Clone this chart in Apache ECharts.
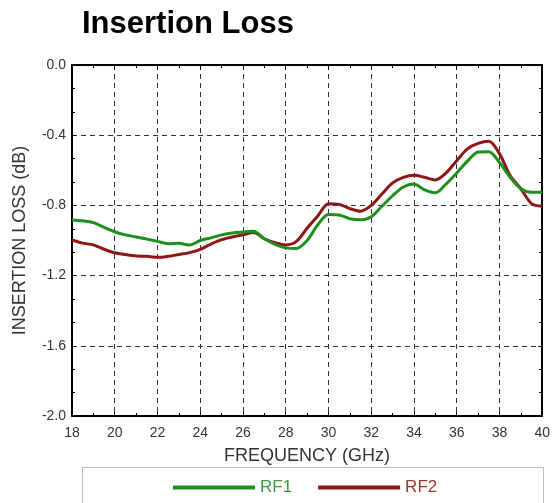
<!DOCTYPE html>
<html>
<head>
<meta charset="utf-8">
<script src="https://cdn.jsdelivr.net/npm/echarts@6/dist/echarts.min.js"></script>
<style>html,body{margin:0;padding:0;background:#fff;}#c{width:553px;height:503px;}</style>
</head>
<body>
<div id="c"></div>
<script>
var freq = [18,18.5,19,19.5,20,20.5,21,21.5,22,22.5,23,23.5,24,24.5,25,25.5,26,26.5,27,27.5,28,28.5,29,29.5,30,30.5,31,31.5,32,32.5,33,33.5,34,34.5,35,35.5,36,36.5,37,37.5,38,38.5,39,39.5,40];
var rf1 = [-0.883,-0.888,-0.898,-0.925,-0.950,-0.968,-0.980,-0.992,-1.005,-1.018,-1.016,-1.026,-1.000,-0.985,-0.968,-0.957,-0.952,-0.948,-0.990,-1.022,-1.042,-1.045,-1.000,-0.910,-0.852,-0.855,-0.876,-0.882,-0.865,-0.805,-0.745,-0.695,-0.678,-0.712,-0.728,-0.678,-0.615,-0.548,-0.496,-0.494,-0.555,-0.640,-0.705,-0.725,-0.725];
var rf2 = [-0.997,-1.015,-1.025,-1.050,-1.070,-1.080,-1.088,-1.090,-1.096,-1.090,-1.080,-1.069,-1.050,-1.020,-0.995,-0.980,-0.967,-0.955,-0.990,-1.012,-1.025,-1.005,-0.930,-0.860,-0.790,-0.794,-0.818,-0.833,-0.800,-0.735,-0.672,-0.640,-0.628,-0.640,-0.655,-0.615,-0.545,-0.478,-0.447,-0.435,-0.505,-0.630,-0.705,-0.790,-0.805];
var xTicks = [18,20,22,24,26,28,30,32,34,36,38,40];
var yTicks = ['0.0','-0.4','-0.8','-1.2','-1.6','-2.0'];

function pairs(xs, ys){ return xs.map(function(x,i){ return [x, ys[i]]; }); }

var chart = echarts.init(document.getElementById('c'));
var FF = 'Liberation Sans, Arial, sans-serif';
var tickStyle = {show:true, inside:true, length:4, lineStyle:{color:'#000', width:1}};
var minorStyle = {show:true, length:3, lineStyle:{color:'#000', width:1}};
var gridLine = {show:true, lineStyle:{color:'#333', width:1, type:[5,4]}};
var lblFont = {fontFamily:FF, fontSize:14, color:'#333'};
chart.setOption({
  animation:false,
  backgroundColor:'#fff',
  title:{text:'Insertion Loss', left:77, top:4, textStyle:{fontFamily:FF, fontSize:31, fontWeight:'bold', color:'#000'}},
  grid:{left:72, right:9, top:65, bottom:87},
  legend:{
    left:168, top:474, itemWidth:82, itemHeight:4, itemGap:26, icon:'rect',
    textStyle:{fontFamily:FF, fontSize:17},
    data:[{name:'RF1', textStyle:{color:'#3c9c3c'}},{name:'RF2', textStyle:{color:'#a33434'}}]
  },
  graphic:[{type:'rect', shape:{x:82.5, y:467.5, width:461, height:50}, style:{fill:'none', stroke:'#bbb', lineWidth:1}, z:-1}],
  xAxis:[{
    type:'value', min:18, max:40, interval:2,
    name:'FREQUENCY (GHz)', nameLocation:'middle', nameGap:31,
    nameTextStyle:{fontFamily:FF, fontSize:18, color:'#333'},
    axisLine:{show:true, onZero:false, lineStyle:{color:'#000', width:2}},
    axisTick:tickStyle, minorTick:Object.assign({splitNumber:2}, minorStyle),
    axisLabel:Object.assign({margin:10, formatter:function(v){ return xTicks.indexOf(v) >= 0 ? String(v) : ''; }}, lblFont),
    splitLine:gridLine
  },{
    type:'value', position:'top', min:18, max:40, interval:2,
    axisLine:{show:true, onZero:false, lineStyle:{color:'#000', width:2}},
    axisTick:tickStyle, minorTick:Object.assign({splitNumber:2}, minorStyle),
    axisLabel:{show:false}, splitLine:{show:false}
  }],
  yAxis:[{
    type:'value', min:-2, max:0, interval:0.4,
    name:'INSERTION LOSS (dB)', nameLocation:'middle', nameGap:43,
    nameTextStyle:{fontFamily:FF, fontSize:18, color:'#333'},
    axisLine:{show:true, onZero:false, lineStyle:{color:'#000', width:2}},
    axisTick:tickStyle, minorTick:Object.assign({splitNumber:3}, minorStyle),
    axisLabel:Object.assign({margin:6, formatter:function(v){ var s=(Math.round(v*10)/10).toFixed(1); if(s==='-0.0') s='0.0'; return yTicks.indexOf(s)>=0 ? s : ''; }}, lblFont),
    splitLine:gridLine
  },{
    type:'value', position:'right', min:-2, max:0, interval:0.4,
    axisLine:{show:true, onZero:false, lineStyle:{color:'#000', width:2}},
    axisTick:tickStyle, minorTick:Object.assign({splitNumber:3}, minorStyle),
    axisLabel:{show:false}, splitLine:{show:false}
  }],
  series:[
    {name:'RF1', type:'line', data:pairs(freq, rf1), showSymbol:false, symbol:'none', smooth:0.3, lineStyle:{color:'#1e8f1e', width:3}, itemStyle:{color:'#1e8f1e'}, z:3},
    {name:'RF2', type:'line', data:pairs(freq, rf2), showSymbol:false, symbol:'none', smooth:0.3, lineStyle:{color:'#8e1616', width:3}, itemStyle:{color:'#8e1616'}, z:2}
  ]
});
</script>
</body>
</html>
